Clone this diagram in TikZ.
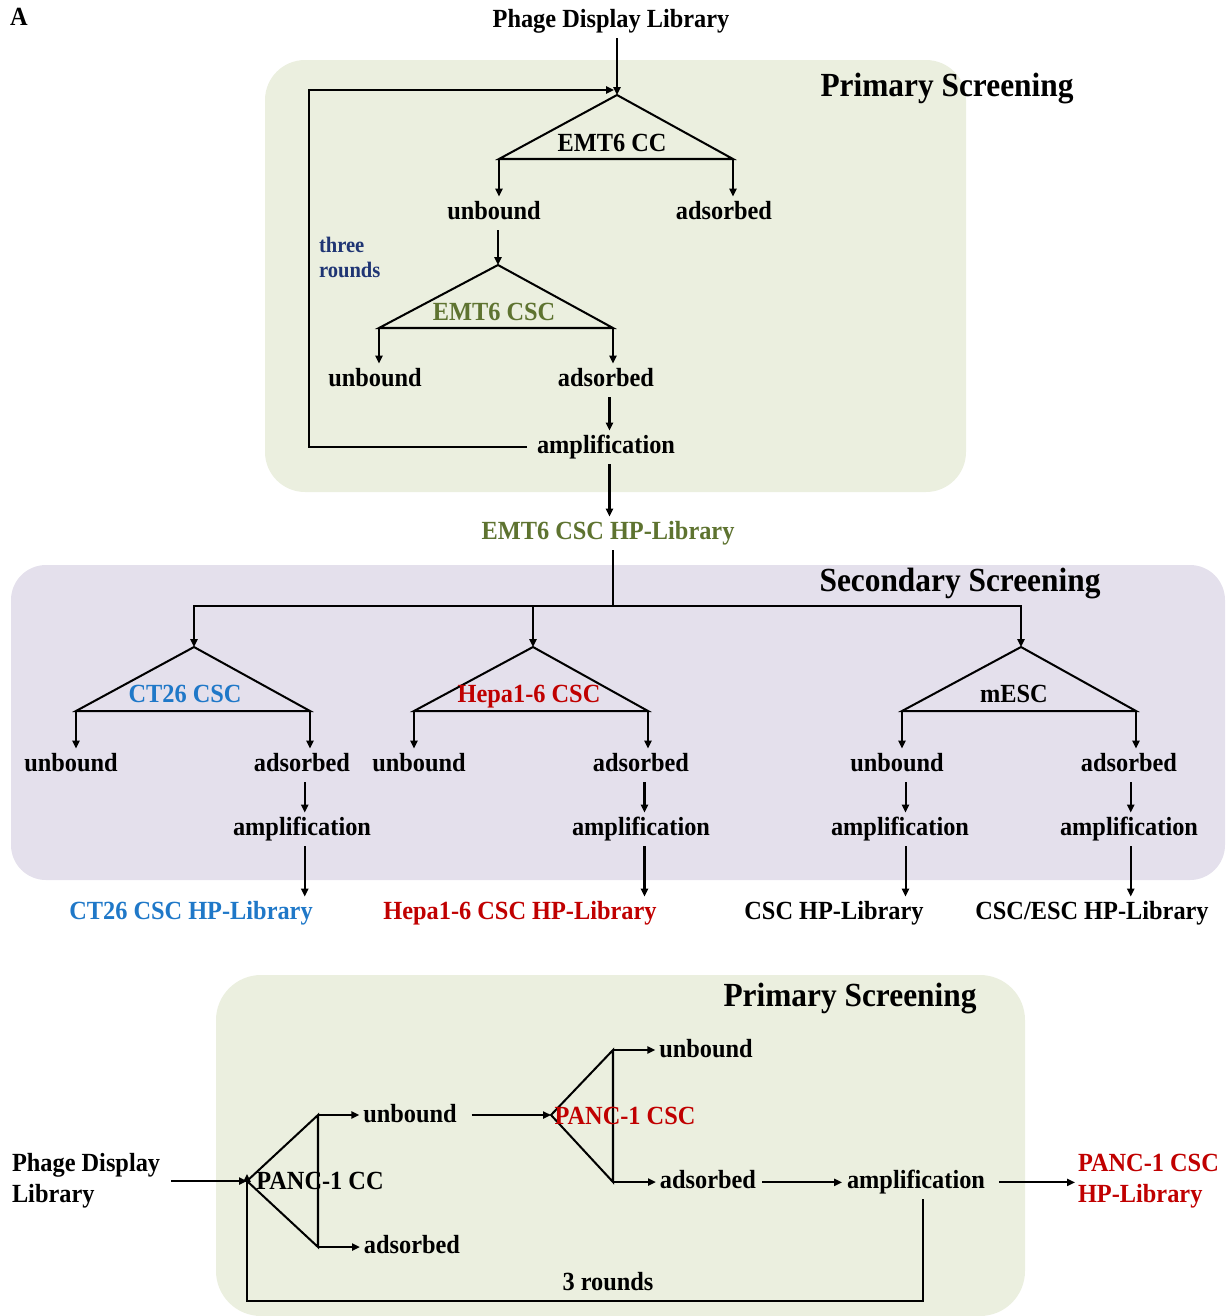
\documentclass[tikz,border=0pt]{standalone}
\usepackage{fontspec}
\setmainfont{Liberation Serif}[FakeStretch=0.93]
\usetikzlibrary{arrows.meta,calc}

\definecolor{boxgreen}{HTML}{EBEFDF}
\definecolor{boxlilac}{HTML}{E4E0EC}
\definecolor{olivetxt}{HTML}{5E7330}
\definecolor{bluetxt}{HTML}{1F78C8}
\definecolor{redtxt}{HTML}{C00000}
\definecolor{navytxt}{HTML}{1F3574}

\tikzset{
  lbl/.style={font=\bfseries\fontsize{14.9}{17.9}\selectfont, inner xsep=0pt, inner ysep=1.6pt, text height=10.6pt, text depth=4.2pt, anchor=base},
  multi/.style={font=\bfseries\fontsize{14.9}{17.6}\selectfont, inner sep=0pt, align=left, anchor=west},
  heading/.style={font=\bfseries\fontsize{19.2}{22}\selectfont, inner sep=0pt, anchor=base},
  arr/.style={-{Triangle[length=4.5pt,width=4pt]}},
}

\begin{document}
\begin{tikzpicture}[x=0.02cm, y=-0.02cm, line width=1.15pt]
	%%%%% START %%%%%
	\useasboundingbox (0,0) rectangle (1231,1316);
	
	\fill[boxgreen, rounded corners=0.8cm] (265,60) rectangle (966,492);
	\fill[boxlilac, rounded corners=0.7cm] (11,565) rectangle (1225,880);
	\fill[boxgreen, rounded corners=0.9cm] (216,975) rectangle (1025,1316);
	
	\node[lbl] (tag) at (19,25) {A};
	\node[heading] (prim1) at (947,96) {Primary Screening};
	\node[heading] (sec) at (960,591) {Secondary Screening};
	\node[heading] (prim2) at (850,1006) {Primary Screening};
	
	% EMT6 rounds
	\node[lbl] (lib) at (611,27) {Phage Display Library};
	\coordinate (t1a) at (617,95);
	\coordinate (t1l) at (499,159);
	\coordinate (t1r) at (733,159);
	\draw[line join=miter] (t1a) -- (t1l) -- (t1r) -- cycle;
	\node[lbl] (emcc) at (612,151) {EMT6 CC};
	\draw[arr] (lib.south -| t1a) -- (t1a);
	
	\node[lbl] (ub1) at (494,219) {unbound};
	\node[lbl] (ad1) at (724,219) {adsorbed};
	\draw[arr] (t1l) -- (t1l |- ub1.north);
	\draw[arr] (t1r) -- (t1r |- ad1.north);
	
	\coordinate (t2a) at (498,265);
	\coordinate (t2l) at (379,328);
	\coordinate (t2r) at (613,328);
	\draw[line join=miter] (t2a) -- (t2l) -- (t2r) -- cycle;
	\node[lbl, olivetxt] (emcsc) at (494,320) {EMT6 CSC};
	\draw[arr] (ub1.south -| t2a) -- (t2a);
	
	\node[lbl] (ub2) at (375,386) {unbound};
	\node[lbl] (ad2) at (606,386) {adsorbed};
	\node[lbl] (amp1) at (606,453) {amplification};
	\draw[arr] (t2l) -- (t2l |- ub2.north);
	\draw[arr] (t2r) -- (t2r |- ad2.north);
	\draw[arr] ([xshift=-2]ad2.south -| t2r) -- ([xshift=-2]amp1.north -| t2r);
	
	\node[multi, navytxt, font=\bfseries\fontsize{12.6}{14.2}\selectfont] (rnd) at (318,257) {three\\rounds};
	\coordinate (lp) at (309,90);
	\coordinate (inlet) at (614,90);
	\draw[arr, shorten <=0.18cm] (amp1.west) -| (lp) -- (inlet);
	
	\node[lbl, olivetxt] (emtlib) at (608,539) {EMT6 CSC HP-Library};
	\draw[arr] ([xshift=-2]amp1.south -| t2r) -- ([xshift=-2]emtlib.north -| t2r);
	
	% secondary screening
	\coordinate (br) at (613,606);
	\coordinate (t3a) at (194,647);
	\coordinate (t3l) at (76,711);
	\coordinate (t3r) at (310,711);
	\coordinate (t4a) at (533,647);
	\coordinate (t4l) at (414,711);
	\coordinate (t4r) at (648,711);
	\coordinate (t5a) at (1021,647);
	\coordinate (t5l) at (902,711);
	\coordinate (t5r) at (1136,711);
	\draw (emtlib.south -| br) -- (br);
	\draw[arr] (br) -| (t3a);
	\draw[arr] (br) -| (t4a);
	\draw[arr] (br) -| (t5a);
	\draw[line join=miter] (t3a) -- (t3l) -- (t3r) -- cycle;
	\draw[line join=miter] (t4a) -- (t4l) -- (t4r) -- cycle;
	\draw[line join=miter] (t5a) -- (t5l) -- (t5r) -- cycle;
	\node[lbl, bluetxt] (ct) at (185,702) {CT26 CSC};
	\node[lbl, redtxt] (hep) at (529,702) {Hepa1-6 CSC};
	\node[lbl] (mesc) at (1014,702) {mESC};
	
	\node[lbl] (ub3) at (71,771) {unbound};
	\node[lbl] (ad3) at (302,771) {adsorbed};
	\node[lbl] (amp3) at (302,835) {amplification};
	\node[lbl, bluetxt] (ctlib) at (191,919) {CT26 CSC HP-Library};
	\draw[arr] (t3l) -- (t3l |- ub3.north);
	\draw[arr] (t3r) -- (t3r |- ad3.north);
	\draw[arr] ([xshift=-3]ad3.south -| t3r) -- ([xshift=-3]amp3.north -| t3r);
	\draw[arr] ([xshift=-3]amp3.south -| t3r) -- ([xshift=-3]ctlib.north -| t3r);
	
	\node[lbl] (ub4) at (419,771) {unbound};
	\node[lbl] (ad4) at (641,771) {adsorbed};
	\node[lbl] (amp4) at (641,835) {amplification};
	\node[lbl, redtxt] (heplib) at (520,919) {Hepa1-6 CSC HP-Library};
	\draw[arr] (t4l) -- (t4l |- ub4.north);
	\draw[arr] (t4r) -- (t4r |- ad4.north);
	\draw[arr] ([xshift=-2]ad4.south -| t4r) -- ([xshift=-2]amp4.north -| t4r);
	\draw[arr] ([xshift=-2]amp4.south -| t4r) -- ([xshift=-2]heplib.north -| t4r);
	
	\node[lbl] (ub5) at (897,771) {unbound};
	\node[lbl] (ad5) at (1129,771) {adsorbed};
	\node[lbl] (amp5) at (900,835) {amplification};
	\node[lbl] (amp6) at (1129,835) {amplification};
	\node[lbl] (csclib) at (834,919) {CSC HP-Library};
	\node[lbl] (esclib) at (1092,919) {CSC/ESC HP-Library};
	\draw[arr] (t5l) -- (t5l |- ub5.north);
	\draw[arr] (t5r) -- (t5r |- ad5.north);
	\draw[arr] ([xshift=2]ub5.south -| t5l) -- ([xshift=2]amp5.north -| t5l);
	\draw[arr] ([xshift=2]amp5.south -| t5l) -- ([xshift=2]csclib.north -| t5l);
	\draw[arr] ([xshift=-3]ad5.south -| t5r) -- ([xshift=-3]amp6.north -| t5r);
	\draw[arr] ([xshift=-3]amp6.south -| t5r) -- ([xshift=-3]esclib.north -| t5r);
	
	% PANC-1 rounds
	\node[multi] (pdl) at (11,1181) {Phage Display\\Library};
	\coordinate (p1a) at (247,1181);
	\coordinate (p1t) at (318,1115);
	\coordinate (p1b) at (318,1247);
	\draw[line join=miter] (p1a) -- (p1t) -- (p1b) -- cycle;
	\node[lbl] (pcc) at (320,1189) {PANC-1 CC};
	\draw[arr, shorten <=0.2cm] (pdl.east |- p1a) -- (p1a);
	
	\node[lbl] (ub6) at (410,1122) {unbound};
	\node[lbl] (ad6) at (412,1253) {adsorbed};
	\draw[arr, shorten >=0.06cm] (p1t) -- (p1t -| ub6.west);
	\draw[arr, shorten >=0.06cm] (p1b) -- (p1b -| ad6.west);
	
	\coordinate (p2a) at (551,1115);
	\coordinate (p2t) at (613,1050);
	\coordinate (p2b) at (613,1182);
	\draw[line join=miter] (p2a) -- (p2t) -- (p2b) -- cycle;
	\node[lbl, redtxt] (pcsc) at (625,1124) {PANC-1 CSC};
	\draw[arr, shorten <=0.28cm] (ub6.east |- p2a) -- (p2a);
	
	\node[lbl] (ub7) at (706,1057) {unbound};
	\node[lbl] (ad7) at (708,1188) {adsorbed};
	\node[lbl] (amp7) at (916,1188) {amplification};
	\draw[arr, shorten >=0.06cm] (p2t) -- (p2t -| ub7.west);
	\draw[arr, shorten >=0.06cm] (p2b) -- (p2b -| ad7.west);
	\draw[arr, shorten <=0.1cm, shorten >=0.08cm] (ad7.east) -- (amp7.west);
	
	\node[multi, redtxt] (panclib) at (1077,1181) {PANC-1 CSC\\HP-Library};
	\draw[arr, shorten <=0.26cm, shorten >=0.04cm] (amp7.east) -- (amp7.east -| panclib.west);
	
	\coordinate (r3) at (247,1301);
	\draw[arr] ([xshift=4]amp7.south) |- (r3) -- ([yshift=4]p1a);
	\node[lbl] (thr) at (608,1290) {3 rounds};
	
	%%%%% END %%%%%
\end{tikzpicture}
\end{document}
